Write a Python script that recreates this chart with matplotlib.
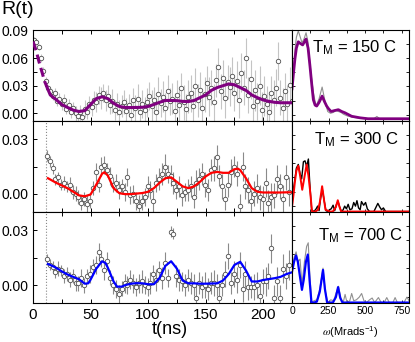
import numpy as np
import matplotlib.pyplot as plt
from matplotlib.ticker import MultipleLocator

plt.rcParams['font.family'] = ['Liberation Sans', 'DejaVu Sans']
plt.rcParams['mathtext.fontset'] = 'stix'

# ---- time-domain data R(t) ----
top_r = [0.080, 0.077, 0.072, 0.060, 0.046, 0.035, 0.027, 0.024, 0.019, 0.022,
         0.013, 0.016, 0.010, 0.014, 0.005, 0.009, 0.002, 0.006, 0.000, -0.003,
         0.001, -0.004, 0.005, 0.002, 0.010, 0.007, 0.015, 0.012, 0.020, 0.017,
         0.022, 0.014, 0.019, 0.009, 0.013, 0.004, 0.010, 0.001, 0.008, 0.012,
         0.003, 0.009, -0.002, 0.014, 0.006, 0.016, 0.001, 0.010, 0.004, 0.012,
         0.019, 0.008, 0.015, 0.002, 0.021, 0.011, 0.018, 0.006, 0.024, 0.013,
         0.016, 0.003, 0.020, 0.009, 0.027, 0.012, 0.005, 0.018, 0.022, 0.008,
         0.030, 0.014, 0.025, 0.006, 0.021, 0.033, 0.018, 0.028, 0.012, 0.036,
         0.050, 0.024, 0.038, 0.017, 0.034, 0.029, 0.041, 0.022, 0.035, 0.015,
         0.044, 0.028, 0.060, 0.020, 0.037, 0.008, 0.025, 0.013, 0.030, 0.004,
         0.019, 0.010, 0.002, 0.022, 0.014, 0.028, 0.057, 0.017, 0.006, 0.024,
         0.010, 0.031, 0.013]
top_err = [0.003, 0.003, 0.003, 0.004, 0.004, 0.004, 0.004, 0.005, 0.005, 0.006,
           0.005, 0.006, 0.006, 0.007, 0.006, 0.007, 0.007, 0.006, 0.008, 0.007,
           0.008, 0.007, 0.009, 0.008, 0.009, 0.010, 0.009, 0.011, 0.010, 0.012,
           0.010, 0.011, 0.012, 0.010, 0.013, 0.011, 0.012, 0.014, 0.012, 0.013,
           0.014, 0.012, 0.015, 0.013, 0.014, 0.016, 0.013, 0.015, 0.014, 0.016,
           0.015, 0.017, 0.014, 0.016, 0.018, 0.015, 0.017, 0.016, 0.018, 0.015,
           0.017, 0.019, 0.016, 0.018, 0.017, 0.019, 0.016, 0.018, 0.020, 0.017,
           0.019, 0.018, 0.020, 0.017, 0.019, 0.018, 0.021, 0.019, 0.020, 0.018,
           0.021, 0.019, 0.020, 0.022, 0.018, 0.021, 0.020, 0.019, 0.022, 0.020,
           0.021, 0.019, 0.022, 0.020, 0.021, 0.019, 0.022, 0.020, 0.021, 0.019,
           0.022, 0.020, 0.021, 0.019, 0.022, 0.020, 0.021, 0.019, 0.022, 0.020,
           0.021, 0.019, 0.020]

mid_r = [0.021, 0.018, 0.014, 0.008, 0.009, 0.005, 0.006, 0.004, 0.005, 0.001,
         0.000, -0.002, -0.005, -0.003, -0.006, -0.004, 0.003, 0.012, 0.005, 0.015,
         0.016, 0.013, 0.010, 0.005, 0.006, 0.002, 0.004, 0.001, 0.009, -0.001,
         0.000, -0.004, -0.007, -0.004, -0.002, 0.004, 0.002, -0.004, 0.006, 0.008,
         0.011, 0.015, 0.011, 0.010, 0.006, 0.002, 0.004, -0.001, 0.001, 0.002,
         0.004, -0.002, 0.006, 0.008, 0.011, 0.005, 0.002, 0.013, 0.014, 0.020,
         0.010, 0.004, -0.003, 0.005, 0.012, 0.015, 0.011, -0.007, 0.015, 0.004,
         0.002, -0.004, 0.000, 0.003, -0.002, -0.003, 0.006, -0.005, -0.002, -0.001,
         0.008, 0.004, -0.003, 0.009, 0.001]
mid_err = [0.003, 0.003, 0.003, 0.003, 0.003, 0.003, 0.004, 0.003, 0.004, 0.004,
           0.004, 0.004, 0.004, 0.004, 0.005, 0.004, 0.004, 0.005, 0.004, 0.005,
           0.005, 0.004, 0.005, 0.004, 0.005, 0.005, 0.004, 0.005, 0.005, 0.005,
           0.005, 0.005, 0.006, 0.005, 0.005, 0.006, 0.005, 0.006, 0.005, 0.006,
           0.006, 0.007, 0.005, 0.006, 0.006, 0.005, 0.006, 0.006, 0.005, 0.006,
           0.006, 0.006, 0.007, 0.006, 0.006, 0.007, 0.006, 0.006, 0.007, 0.007,
           0.006, 0.007, 0.006, 0.007, 0.007, 0.006, 0.007, 0.007, 0.008, 0.007,
           0.007, 0.006, 0.007, 0.008, 0.007, 0.007, 0.008, 0.007, 0.008, 0.007,
           0.008, 0.007, 0.008, 0.007, 0.008]

bot_r = [0.014, 0.011, 0.010, 0.007, 0.009, 0.008, 0.005, 0.006, 0.003, 0.005,
         0.001, 0.001, 0.004, 0.000, 0.005, 0.006, 0.010, 0.011, 0.018, 0.014,
         0.008, 0.013, 0.004, 0.000, -0.002, -0.005, -0.002, 0.001, 0.000, 0.003,
         0.001, -0.001, 0.001, 0.002, 0.000, -0.001, 0.001, 0.006, 0.003, 0.008,
         0.004, 0.012, 0.004, 0.029, 0.028, 0.005, 0.003, 0.002, 0.000, 0.003,
         0.001, 0.000, -0.007, 0.001, -0.001, 0.000, -0.002, 0.001, 0.001, 0.000,
         -0.007, 0.000, 0.006, 0.016, 0.001, 0.006, 0.003, 0.011, -0.002, 0.006,
         -0.001, -0.001, -0.001, 0.000, -0.006, 0.002, 0.002, 0.005, 0.020, -0.007,
         0.002, -0.007, 0.009, 0.005, 0.011]
bot_err = [0.003, 0.003, 0.003, 0.003, 0.004, 0.003, 0.004, 0.004, 0.004, 0.004,
           0.004, 0.004, 0.005, 0.004, 0.004, 0.005, 0.004, 0.005, 0.005, 0.004,
           0.005, 0.005, 0.004, 0.005, 0.005, 0.005, 0.004, 0.005, 0.005, 0.005,
           0.005, 0.005, 0.005, 0.006, 0.005, 0.005, 0.006, 0.005, 0.006, 0.005,
           0.006, 0.006, 0.005, 0.003, 0.003, 0.006, 0.006, 0.005, 0.006, 0.006,
           0.006, 0.006, 0.007, 0.006, 0.006, 0.007, 0.006, 0.006, 0.007, 0.006,
           0.007, 0.006, 0.007, 0.007, 0.006, 0.007, 0.007, 0.007, 0.007, 0.007,
           0.007, 0.006, 0.007, 0.007, 0.007, 0.007, 0.008, 0.007, 0.008, 0.007,
           0.008, 0.007, 0.008, 0.007, 0.008]

t_top = np.arange(1, 226, 2)
t_mid = 12 + 2.5 * np.arange(len(mid_r))
t_bot = 12 + 2.5 * np.arange(len(bot_r))

# ---- fits ----
top_fit_t = [0, 3, 5, 8, 10, 12, 15, 20, 25, 30, 35, 40, 45, 50, 55, 60, 65, 70, 75, 80,
             85, 90, 95, 100, 105, 110, 115, 120, 125, 130, 135, 140, 145, 150, 155, 160,
             165, 170, 175, 180, 185, 190, 195, 200, 205, 210, 215, 220, 225]
top_fit_r = [0.078, 0.067, 0.057, 0.044, 0.035, 0.029, 0.020, 0.015, 0.0096, 0.0064,
             0.0035, 0.002, 0.003, 0.0096, 0.016, 0.018, 0.016, 0.011, 0.0075, 0.0064,
             0.0063, 0.0064, 0.0066, 0.0075, 0.0096, 0.012, 0.014, 0.014, 0.0138, 0.013,
             0.0128, 0.014, 0.017, 0.020, 0.025, 0.028, 0.030, 0.032, 0.031, 0.028,
             0.025, 0.020, 0.017, 0.0145, 0.013, 0.012, 0.0115, 0.0115, 0.0115]

mid_fit_t = [13, 15, 20, 25, 30, 35, 40, 45, 50, 55, 60, 62, 65, 70, 75, 80, 85, 90, 95,
             100, 105, 110, 115, 120, 125, 130, 135, 140, 145, 150, 155, 160, 165, 170,
             175, 178, 180, 185, 190, 195, 200, 205, 210, 215, 220, 225]
mid_fit_r = [0.0085, 0.0078, 0.0060, 0.0045, 0.0030, 0.0010, -0.0010, -0.0015, -0.0005,
             0.0050, 0.0110, 0.0118, 0.0100, 0.0030, 0.0002, -0.0003, -0.0003, 0.0000,
             0.0003, 0.0010, 0.0030, 0.0060, 0.0085, 0.0090, 0.0065, 0.0040, 0.0030,
             0.0040, 0.0065, 0.0095, 0.0115, 0.0120, 0.0115, 0.0115, 0.0135, 0.0138,
             0.0130, 0.0085, 0.0030, 0.0010, 0.0006, 0.0006, 0.0006, 0.0006, 0.0007, 0.0007]

bot_fit_t = [13, 15, 20, 25, 30, 35, 40, 45, 48, 50, 55, 60, 63, 65, 70, 73, 77, 80, 85,
             90, 95, 100, 105, 110, 115, 120, 125, 130, 135, 140, 145, 150, 155, 160,
             165, 170, 175, 180, 185, 190, 195, 200, 205, 210, 215, 220, 225]
bot_fit_r = [0.0115, 0.0110, 0.0095, 0.0075, 0.0058, 0.0045, 0.0032, 0.0008, 0.0010,
             0.0030, 0.0090, 0.0130, 0.0120, 0.0095, 0.0020, -0.0008, -0.0008, 0.0000,
             0.0008, 0.0011, 0.0010, 0.0005, 0.0005, 0.0040, 0.0105, 0.0130, 0.0090,
             0.0025, 0.0010, 0.0010, 0.0008, 0.0008, 0.0009, 0.0010, 0.0025, 0.0060,
             0.0110, 0.0127, 0.0080, 0.0020, 0.0020, 0.0028, 0.0033, 0.0038, 0.0045,
             0.0060, 0.0070]

# ---- frequency spectra (arb. units) ----
top_w = [0, 10, 20, 30, 43, 58, 73, 85, 96, 110, 123, 135, 146, 158, 169, 185, 206, 222,
         237, 250, 267, 290, 317, 340, 363, 408, 466, 520, 800]
top_purple = [0.35, 0.52, 0.68, 0.80, 0.87, 0.85, 0.835, 0.87, 0.90, 0.80, 0.60, 0.40,
              0.23, 0.17, 0.16, 0.20, 0.27, 0.21, 0.16, 0.13, 0.10, 0.11, 0.12, 0.10,
              0.085, 0.047, 0.03, 0.02, 0.02]
top_wg = [0, 10, 20, 30, 43, 55, 68, 82, 96, 108, 120, 133, 146, 164, 185, 206, 225, 244,
          263, 283, 300, 317, 335, 352, 380, 420, 470, 520, 560, 572, 580, 588, 600, 650,
          700, 800]
top_gray = [0.30, 0.55, 0.78, 0.92, 0.99, 0.93, 0.86, 0.90, 0.97, 0.88, 0.68, 0.48, 0.31,
            0.16, 0.24, 0.37, 0.22, 0.10, 0.08, 0.09, 0.11, 0.10, 0.09, 0.07, 0.05, 0.035,
            0.025, 0.02, 0.02, 0.035, 0.045, 0.035, 0.02, 0.015, 0.015, 0.015]

mid_w = [0, 10, 20, 30, 43, 55, 70, 85, 100, 112, 123, 137, 160, 178, 190, 206, 218, 229,
         260, 279, 300, 313, 325, 336, 800]
mid_red = [0.05, 0.18, 0.33, 0.45, 0.505, 0.40, 0.24, 0.38, 0.52, 0.40, 0.24, 0.0, 0.0,
           0.02, 0.10, 0.28, 0.14, 0.02, 0.0, 0.0, 0.05, 0.125, 0.05, 0.0, 0.0]
mid_wb = [0, 15, 30, 43, 55, 66, 78, 89, 100, 112, 122, 134, 150, 165, 175, 185, 196, 208,
          220, 232, 245, 256, 268, 281, 292, 304, 315, 326, 338, 350, 360, 372, 384, 396,
          410, 422, 434, 444, 455, 466, 475, 490, 503, 515, 530, 560, 575, 587, 600, 612,
          625, 640, 800]
mid_black = [0.17, 0.30, 0.48, 0.52, 0.42, 0.36, 0.55, 0.56, 0.50, 0.58, 0.30, 0.02, 0.0,
             0.03, 0.06, 0.01, 0.15, 0.24, 0.12, 0.01, 0.0, 0.02, 0.03, 0.07, 0.01, 0.08,
             0.11, 0.05, 0.0, 0.02, 0.06, 0.03, 0.08, 0.02, 0.03, 0.10, 0.06, 0.12, 0.04,
             0.02, 0.11, 0.07, 0.10, 0.03, 0.0, 0.0, 0.05, 0.09, 0.05, 0.02, 0.04, 0.0, 0.0]

bot_w = [0, 14, 27, 40, 55, 68, 80, 95, 108, 120, 133, 150, 170, 190, 212, 225, 240, 280,
         300, 315, 330, 345, 800]
bot_blue = [0.34, 0.45, 0.52, 0.45, 0.28, 0.14, 0.25, 0.45, 0.53, 0.25, 0.0, 0.0, 0.01,
            0.12, 0.36, 0.15, 0.0, 0.0, 0.06, 0.17, 0.05, 0.0, 0.0]
bot_wg = [0, 15, 28, 42, 55, 68, 85, 100, 111, 122, 135, 150, 170, 190, 212, 228, 245, 265,
          285, 300, 318, 335, 350, 363, 376, 395, 408, 422, 440, 460, 476, 492, 510, 530,
          548, 565, 591, 610, 630, 648, 665, 690, 705, 720, 765, 786, 800]
bot_gray = [0.36, 0.50, 0.56, 0.45, 0.48, 0.20, 0.45, 0.62, 0.66, 0.30, 0.0, 0.02, 0.03,
            0.15, 0.38, 0.12, 0.0, 0.03, 0.02, 0.10, 0.18, 0.04, 0.0, 0.09, 0.0, 0.02, 0.10,
            0.02, 0.03, 0.06, 0.10, 0.02, 0.0, 0.03, 0.05, 0.0, 0.055, 0.0, 0.0, 0.055,
            0.0, 0.0, 0.055, 0.0, 0.0, 0.06, 0.02]

labels = ['150', '300', '700']

# ---- layout ----
W, H = 415, 342
fig = plt.figure(figsize=(W / 100, H / 100), dpi=100)
lx, lw = 33 / W, 259 / W
rx, rw = 292 / W, 117 / W
bottoms = [(H - 121) / H, (H - 212) / H, (H - 303) / H]
h = 91 / H

axL = [fig.add_axes([lx, b, lw, h]) for b in bottoms]
axR = [fig.add_axes([rx, b, rw, h]) for b in bottoms]

ylims = [(-0.0083, 0.0905), (-0.0102, 0.0402), (-0.0097, 0.0398)]


def points(ax, t, r, e, ecol):
    ax.errorbar(t, r, yerr=e, fmt='o', ms=3.2, mfc='white', mec='#505050', mew=0.6,
                ecolor=ecol, elinewidth=0.8, capsize=0, zorder=2)


points(axL[0], t_top, top_r, top_err, '#c4c4c4')
points(axL[1], t_mid, mid_r, mid_err, '#8a8a8a')
points(axL[2], t_bot, bot_r, bot_err, '#8a8a8a')

axL[0].plot(top_fit_t[:6], top_fit_r[:6], color='#800080', lw=2.2, ls=(0, (3, 1.5)), zorder=3)
axL[0].plot(top_fit_t[5:], top_fit_r[5:], color='#800080', lw=2.2, zorder=3)
axL[1].plot(mid_fit_t, mid_fit_r, color='#ff0000', lw=1.6, zorder=3)
axL[2].plot(bot_fit_t, bot_fit_r, color='#0000ff', lw=1.6, zorder=3)

for ax in axL[1:]:
    ax.axvline(11, color='#888888', ls=':', lw=0.8, zorder=1)

for i, ax in enumerate(axL):
    ax.set_xlim(0, 225)
    ax.set_ylim(*ylims[i])
    ax.xaxis.set_major_locator(MultipleLocator(50))
    ax.xaxis.set_minor_locator(MultipleLocator(25))
    ax.yaxis.set_major_locator(MultipleLocator(0.03))
    ax.yaxis.set_minor_locator(MultipleLocator(0.015))
    ax.tick_params(which='both', direction='in', top=True, right=False, length=3, width=0.7)
    ax.tick_params(axis='y', labelsize=10)
    ax.tick_params(axis='x', labelsize=11)
    if i < 2:
        ax.tick_params(labelbottom=False)
    for s in ax.spines.values():
        s.set_linewidth(0.8)

# ---- right panels ----
axR[0].plot(top_wg, top_gray, color='#909090', lw=0.8)
axR[0].plot(top_w, top_purple, color='#800080', lw=2.0)
axR[1].plot(mid_wb, mid_black, color='black', lw=1.0)
axR[1].plot(mid_w, mid_red, color='#ff0000', lw=1.4)
axR[2].plot(bot_wg, bot_gray, color='#909090', lw=0.8)
axR[2].plot(bot_w, bot_blue, color='#0000ff', lw=1.6)

label_pos = [(0.17, 0.91), (0.19, 0.90), (0.22, 0.84)]
for i, ax in enumerate(axR):
    ax.set_xlim(0, 800)
    ax.set_ylim(-0.005, 1.0)
    ax.set_xticks([0, 250, 500, 750])
    ax.xaxis.set_minor_locator(MultipleLocator(125))
    ax.set_yticks([0.065, 0.22, 0.38, 0.535, 0.69, 0.845])
    ax.tick_params(which='both', direction='in', top=True, left=True, right=True,
                   labelleft=False, length=2.5, width=0.6, labelsize=7.5, pad=2)
    if i < 2:
        ax.tick_params(labelbottom=False)
    for s in ax.spines.values():
        s.set_linewidth(0.8)
    x0, y0 = label_pos[i]
    ax.text(x0, y0, r'$\mathregular{T_M}$ = %s C' % labels[i], transform=ax.transAxes,
            ha='left', va='top', fontsize=12)

fig.text(1 / W, 1 - 1 / H, 'R(t)', ha='left', va='top', fontsize=14)
fig.text(170 / W, 1 - 329 / H, 't(ns)', ha='center', va='center', fontsize=13)
fig.text(350 / W, 1 - 332 / H, r'$\omega$(Mrads$^{\mathregular{-1}}$)', ha='center',
         va='center', fontsize=8)

fig.savefig('out.png', dpi=100)
